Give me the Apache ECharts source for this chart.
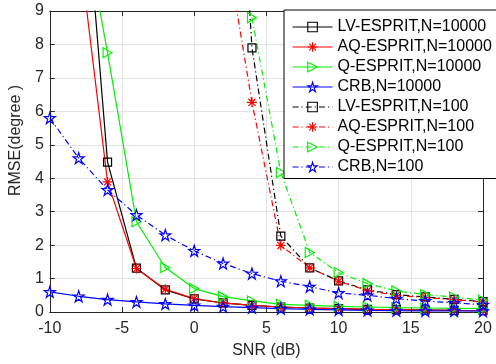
<!DOCTYPE html>
<html>
<head>
<meta charset="utf-8">
<script src="https://cdn.jsdelivr.net/npm/echarts@6/dist/echarts.min.js"></script>
<style>
html,body{margin:0;padding:0;background:#fff;}
#c{width:496px;height:364px;}
</style>
</head>
<body>
<div id="c"></div>
<script>
const snr = [-10,-8,-6,-4,-2,0,2,4,6,8,10,12,14,16,18,20];
const lv10000  = [40,15,4.48,1.31,0.66,0.39,0.27,0.2,0.15,0.12,0.1,0.08,0.07,0.06,0.05,0.045];
const aq10000  = [28,11,3.89,1.3,0.68,0.4,0.27,0.2,0.15,0.12,0.1,0.08,0.07,0.06,0.05,0.045];
const q10000   = [25,12.5,7.75,2.7,1.33,0.7,0.46,0.33,0.23,0.2,0.17,0.15,0.13,0.12,0.11,0.1];
const crb10000 = [0.6,0.47,0.37,0.3,0.24,0.2,0.16,0.13,0.1,0.08,0.065,0.05,0.04,0.035,0.03,0.025];
const lv100    = [100,90,80,70,55,40,22,7.9,2.27,1.32,0.93,0.66,0.52,0.45,0.38,0.31];
const aq100    = [95,85,75,60,45,30,11.5,6.27,1.99,1.32,0.92,0.64,0.5,0.43,0.37,0.3];
const q100     = [110,100,90,80,60,40,14,8.8,4.17,1.78,1.18,0.85,0.63,0.52,0.45,0.35];
const crb100   = [5.8,4.6,3.65,2.9,2.3,1.83,1.45,1.15,0.92,0.76,0.57,0.5,0.4,0.33,0.27,0.22];
const legendNames = ['LV-ESPRIT,N=10000','AQ-ESPRIT,N=10000','Q-ESPRIT,N=10000','CRB,N=10000',
                     'LV-ESPRIT,N=100','AQ-ESPRIT,N=100','Q-ESPRIT,N=100','CRB,N=100'];
const xTicks = [-10,-5,0,5,10,15,20];
const yTicks = [0,1,2,3,4,5,6,7,8,9];

const SQ = 'path://M0 0 L20 0 L20 20 L0 20 Z';
const AST = 'path://M10 0 L10 20 M0 10 L20 10 M2.93 2.93 L17.07 17.07 M17.07 2.93 L2.93 17.07';
const TRI = 'path://M0 0 L20 10 L0 20 Z';
const STAR = 'path://M10 0 L12.245 6.91 L19.511 6.91 L13.633 11.18 L15.878 18.09 L10 13.82 L4.122 18.09 L6.367 11.18 L0.489 6.91 L7.755 6.91 Z';

const FONT = 'Liberation Sans';
const DASHDOT = [6,3,1.2,3];
const GREEN = '#00f000';

function mk(name, data, color, symbol, size, dashed) {
  return {
    name: name,
    type: 'line',
    data: snr.map((x, i) => [x, data[i]]),
    symbol: symbol,
    symbolSize: size,
    showSymbol: true,
    clip: true,
    animation: false,
    lineStyle: {color: color, width: 1.2, type: dashed ? DASHDOT : 'solid'},
    itemStyle: {color: 'rgba(0,0,0,0)', borderColor: color, borderWidth: 1.2},
    emphasis: {disabled: true}
  };
}

const series = [
  mk(legendNames[0], lv10000, '#000000', SQ, 8, false),
  mk(legendNames[1], aq10000, '#ff0000', AST, 10, false),
  mk(legendNames[2], q10000, GREEN, TRI, [9,10], false),
  mk(legendNames[3], crb10000, '#0000ff', STAR, 11, false),
  mk(legendNames[4], lv100, '#000000', SQ, 8, true),
  mk(legendNames[5], aq100, '#ff0000', AST, 10, true),
  mk(legendNames[6], q100, GREEN, TRI, [9,10], true),
  mk(legendNames[7], crb100, '#0000ff', STAR, 11, true)
];

const axisColor = '#262626';
const chart = echarts.init(document.getElementById('c'), null, {renderer: 'canvas'});
chart.setOption({
  backgroundColor: '#ffffff',
  animation: false,
  grid: {left: 43, right: 13, top: 11, bottom: 50, containLabel: false},
  legend: {
    data: legendNames,
    orient: 'vertical',
    left: 284, top: 10,
    padding: [9, 40, 3.5, 8],
    itemGap: 4,
    itemWidth: 40,
    itemHeight: 12,
    backgroundColor: '#ffffff',
    borderColor: '#000000',
    borderWidth: 1,
    borderRadius: 0,
    itemStyle: {color: 'rgba(0,0,0,0)', borderWidth: 1.1},
    lineStyle: {width: 1.1},
    textStyle: {fontFamily: FONT, fontSize: 16, color: '#000000'},
    selectedMode: false
  },
  xAxis: [{
    type: 'value', min: -10, max: 20, interval: 5,
    name: 'SNR (dB)', nameLocation: 'middle', nameGap: 31,
    nameTextStyle: {fontFamily: FONT, fontSize: 16, color: axisColor},
    axisLine: {show: true, onZero: false, lineStyle: {color: axisColor, width: 1}},
    axisTick: {show: true, inside: true, length: 5, lineStyle: {color: axisColor}},
    axisLabel: {fontFamily: FONT, fontSize: 16, color: axisColor, margin: 9,
      formatter: v => xTicks.includes(v) ? String(v) : ''},
    splitLine: {show: true, lineStyle: {color: '#e3e3e3', width: 1}}
  }, {
    type: 'value', min: -10, max: 20, interval: 5, position: 'top',
    axisLine: {show: true, onZero: false, lineStyle: {color: axisColor, width: 1}},
    axisTick: {show: true, inside: true, length: 5, lineStyle: {color: axisColor}},
    axisLabel: {show: false},
    splitLine: {show: false}
  }],
  yAxis: [{
    type: 'value', min: 0, max: 9, interval: 1,
    name: 'RMSE(degree )', nameLocation: 'middle', nameGap: 22, nameRotate: 90,
    nameTextStyle: {fontFamily: FONT, fontSize: 16, color: axisColor, padding: [0, 0, 0, 42]},
    axisLine: {show: true, onZero: false, lineStyle: {color: axisColor, width: 1}},
    axisTick: {show: true, inside: true, length: 5, lineStyle: {color: axisColor}},
    axisLabel: {fontFamily: FONT, fontSize: 16, color: axisColor, margin: 6,
      formatter: v => yTicks.includes(v) ? String(v) : ''},
    splitLine: {show: true, lineStyle: {color: '#e3e3e3', width: 1}}
  }, {
    type: 'value', min: 0, max: 9, interval: 1, position: 'right',
    axisLine: {show: true, onZero: false, lineStyle: {color: axisColor, width: 1}},
    axisTick: {show: true, inside: true, length: 5, lineStyle: {color: axisColor}},
    axisLabel: {show: false},
    splitLine: {show: false}
  }],
  series: series
});
</script>
</body>
</html>
